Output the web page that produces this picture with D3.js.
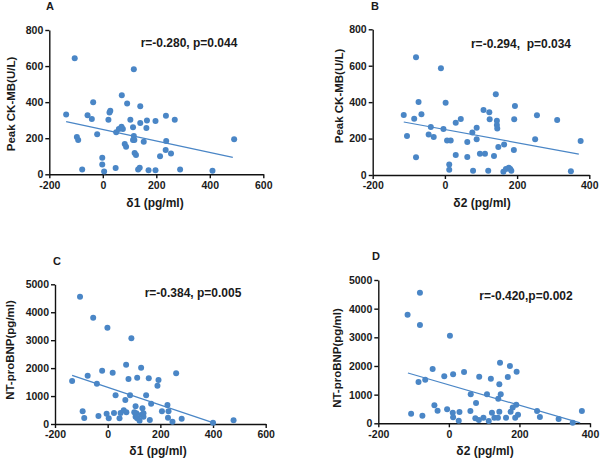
<!DOCTYPE html>
<html><head><meta charset="utf-8">
<script src="https://cdn.jsdelivr.net/npm/d3@7"></script>
<style>
body{margin:0;background:#fff;}
svg text{font-family:"Liberation Sans",Arial,sans-serif;font-weight:bold;fill:#1a1a1a;}
</style></head>
<body><svg id="c" width="600" height="459"></svg>
<script>
// ---- data ----
const panelLetters = ["A","B","C","D"];
const yLabels = ["Peak CK-MB(U/L)","Peak CK-MB(U/L)","NT-proBNP(pg/ml)","NT-proBNP(pg/ml)"];
const xLabels = ["δ1 (pg/ml)","δ2 (pg/ml)","δ1 (pg/ml)","δ2 (pg/ml)"];
const statTexts = ["r=-0.280, p=0.044","r=-0.294,  p=0.034","r=-0.384, p=0.005","r=-0.420,p=0.002"];
const xTicksD1 = [-200,0,200,400,600];
const xTicksD2 = [-200,0,200,400];
const yTicksCK = [0,200,400,600,800];
const yTicksBNP = [0,1000,2000,3000,4000,5000];

const pointsA = [[-105,643],[116,582],[71,438],[91,392],[-36,399],[140,377],[-137,331],[-57,327],[-41,307],[21,303],[28,353],[25,342],[103,303],[113,261],[140,285],[165,298],[163,257],[197,296],[236,325],[269,303],[-21,222],[-97,207],[-92,190],[50,233],[60,251],[70,264],[75,251],[116,212],[118,190],[113,190],[153,181],[82,168],[87,153],[237,185],[235,135],[255,116],[214,100],[119,118],[124,107],[-2,92],[-2,55],[-77,26],[5,15],[48,35],[132,26],[138,37],[171,22],[197,22],[289,26],[410,20],[491,194]];
const pointsB = [[-80,646],[-11,586],[141,443],[-73,401],[2,397],[194,379],[-114,330],[-65,333],[-85,309],[107,357],[123,344],[124,306],[144,298],[144,275],[145,256],[192,306],[255,328],[311,302],[44,308],[30,287],[88,260],[76,233],[-39,264],[-45,222],[-31,209],[-105,214],[-4,253],[6,190],[16,190],[62,181],[88,196],[250,196],[148,154],[164,168],[191,137],[-80,97],[30,110],[62,99],[97,117],[111,117],[136,104],[12,57],[12,29],[78,24],[120,24],[162,18],[169,33],[177,40],[181,33],[184,24],[349,20],[376,187]];
const pointsC = [[-105,4558],[-55,3807],[-1,3449],[90,3067],[70,2124],[127,2017],[-21,1909],[19,1838],[-76,1730],[260,1814],[79,1611],[112,1659],[156,1635],[193,1575],[189,1372],[-135,1539],[-41,1444],[30,1026],[85,1026],[146,1026],[165,728],[67,859],[106,632],[132,561],[227,680],[231,453],[206,453],[-95,453],[-89,215],[-35,286],[-4,370],[4,203],[24,394],[45,203],[49,394],[61,489],[71,418],[101,418],[106,263],[109,382],[112,203],[121,119],[127,322],[136,263],[136,382],[160,143],[229,227],[246,84],[281,191],[400,48],[478,131]];
const pointsD = [[-82,4558],[-117,3791],[-82,3430],[3,3058],[145,2116],[173,2000],[-46,1895],[192,1802],[43,1791],[12,1709],[-13,1640],[86,1628],[119,1558],[167,1616],[-86,1442],[-67,1523],[143,1360],[62,1012],[108,1012],[147,1012],[140,860],[77,709],[-41,628],[191,651],[181,547],[175,407],[-32,442],[-5,488],[11,372],[30,395],[61,430],[12,209],[28,93],[-107,337],[-75,267],[75,174],[85,116],[98,198],[113,81],[122,372],[129,198],[139,198],[143,407],[162,198],[188,198],[196,302],[250,430],[258,221],[311,151],[351,23],[377,430]];
const fitA = [[-137,292],[486,94]];
const fitB = [[-114,291],[371,115]];
const fitC = [[-135,1742],[405,30]];
const fitD = [[-116,1756],[372,15]];

// ---- layout ----
const layout = [
  {x0:49.3,x1:263.3,yTop:30,yBot:174.3, xd:[-200,600], yd:[0,800], xt:xTicksD1, yt:yTicksCK, pts:pointsA, fit:fitA,
   letter:[46,10], ylab:[11,104], xlab:[155,207], stat:[189,47]},
  {x0:372.7,x1:589.3,yTop:29.3,yBot:175, xd:[-200,400], yd:[0,800], xt:xTicksD2, yt:yTicksCK, pts:pointsB, fit:fitB,
   letter:[371,10], ylab:[339,96], xlab:[482,207], stat:[521,48]},
  {x0:55,x1:265.7,yTop:284.3,yBot:424, xd:[-200,600], yd:[0,5000], xt:xTicksD1, yt:yTicksBNP, pts:pointsC, fit:fitC,
   letter:[53,265], ylab:[10,350], xlab:[158,455], stat:[193,297]},
  {x0:378.3,x1:590,yTop:280,yBot:423.3, xd:[-200,400], yd:[0,5000], xt:xTicksD2, yt:yTicksBNP, pts:pointsD, fit:fitD,
   letter:[372,260], ylab:[337,358], xlab:[485,455], stat:[526,300]}
];

const svg = d3.select("#c");
const blue = "#4a86c6";
const fmt = d => String(d);

layout.forEach((p,i)=>{
  const x = d3.scaleLinear().domain(p.xd).range([p.x0,p.x1]);
  const y = d3.scaleLinear().domain(p.yd).range([p.yBot,p.yTop]);
  const g = svg.append("g");

  const ax = g.append("g").attr("transform",`translate(0,${p.yBot})`)
    .call(d3.axisBottom(x).tickValues(p.xt).tickFormat(fmt).tickSize(4).tickPadding(3).tickSizeOuter(0));
  const ay = g.append("g").attr("transform",`translate(${p.x0},0)`)
    .call(d3.axisLeft(y).tickValues(p.yt).tickFormat(fmt).tickSize(4).tickPadding(2).tickSizeOuter(0));
  [ax,ay].forEach(a=>{
    a.selectAll("path,line").attr("stroke","#111").attr("stroke-width",1.4);
    a.selectAll("text").attr("font-size",10.5).attr("font-weight","bold").attr("fill","#1a1a1a")
      .attr("font-family","Liberation Sans, Arial, sans-serif");
  });

  g.append("line")
    .attr("x1",x(p.fit[0][0])).attr("y1",y(p.fit[0][1]))
    .attr("x2",x(p.fit[1][0])).attr("y2",y(p.fit[1][1]))
    .attr("stroke",blue).attr("stroke-width",1.2);

  g.selectAll("circle").data(p.pts).enter().append("circle")
    .attr("cx",d=>x(d[0])).attr("cy",d=>y(d[1])).attr("r",3)
    .attr("fill",blue);

  g.append("text").attr("x",p.letter[0]).attr("y",p.letter[1]).attr("font-size",11).text(panelLetters[i]);
  g.append("text").attr("transform",`translate(${p.ylab[0]},${p.ylab[1]}) rotate(-90)`)
    .attr("text-anchor","middle").attr("dy","0.35em").attr("font-size",11.5).text(yLabels[i]);
  g.append("text").attr("x",p.xlab[0]).attr("y",p.xlab[1]).attr("text-anchor","middle")
    .attr("font-size",12).text(xLabels[i]);
  g.append("text").attr("x",p.stat[0]).attr("y",p.stat[1]).attr("text-anchor","middle")
    .attr("font-size",12).style("white-space","pre").attr("xml:space","preserve").text(statTexts[i]);
});
</script></body></html>
